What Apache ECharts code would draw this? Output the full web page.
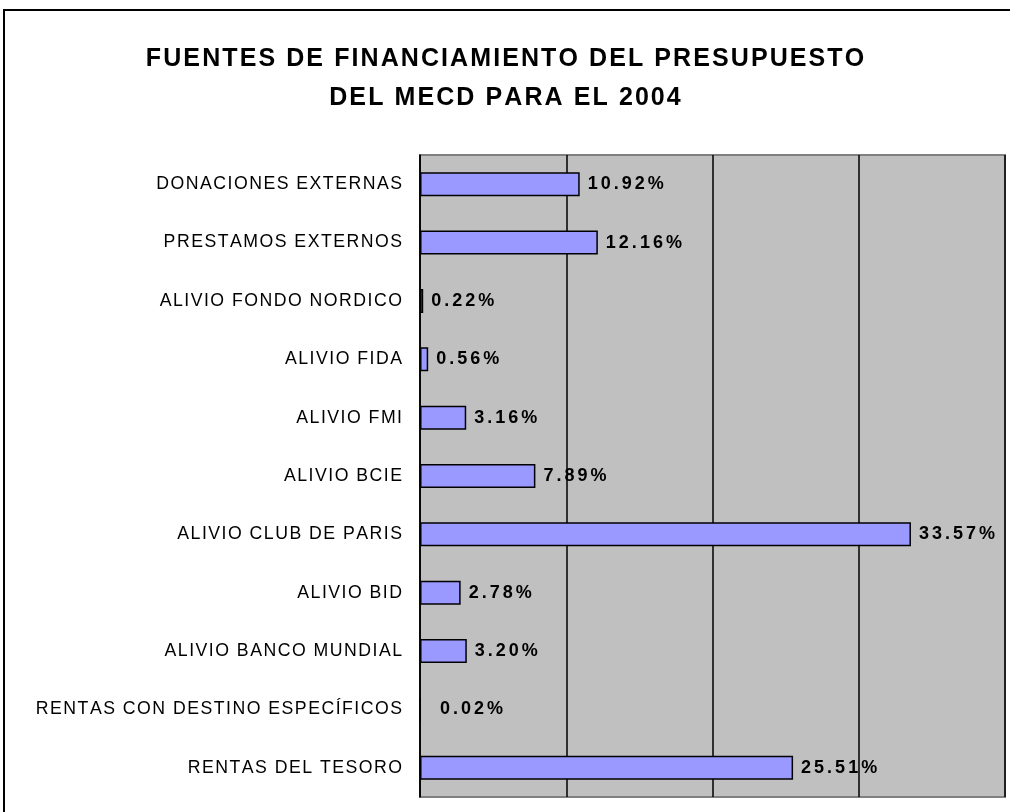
<!DOCTYPE html>
<html>
<head>
<meta charset="utf-8">
<script src="https://cdn.jsdelivr.net/npm/echarts@6/dist/echarts.min.js"></script>
<style>
  html, body { margin: 0; padding: 0; background: #fff; }
  #chart { width: 1010px; height: 812px; }
</style>
</head>
<body>
<div id="chart"></div>
<script>
  // categorias (de arriba hacia abajo)
  var categories = [
    'DONACIONES EXTERNAS',
    'PRESTAMOS EXTERNOS',
    'ALIVIO FONDO NORDICO',
    'ALIVIO FIDA',
    'ALIVIO FMI',
    'ALIVIO BCIE',
    'ALIVIO CLUB DE PARIS',
    'ALIVIO BID',
    'ALIVIO BANCO MUNDIAL',
    'RENTAS CON DESTINO ESPECÍFICOS',
    'RENTAS DEL TESORO'
  ];
  // porcentajes
  var values = [10.92, 12.16, 0.22, 0.56, 3.16, 7.89, 33.57, 2.78, 3.20, 0.02, 25.51];

  var chart = echarts.init(document.getElementById('chart'));

  // espaciado entre letras (hair space)
  function spaced(s, n) {
    var gap = new Array(n + 1).join('\u200A');
    return s.split('').join(gap);
  }

  // barras casi nulas: etiqueta un poco mas separada, como en excel
  var barData = values.map(function (v) {
    return v < 0.1 ? { value: v, label: { distance: 19 } } : v;
  });

  chart.setOption({
    backgroundColor: '#fff',
    animation: false,
    title: {
      text: spaced('FUENTES DE FINANCIAMIENTO DEL PRESUPUESTO', 1) + '\n' + spaced('DEL MECD PARA EL 2004', 1),
      left: 'center',
      top: 34,
      textStyle: {
        fontFamily: 'Liberation Sans',
        fontWeight: 'bold',
        fontSize: 25,
        lineHeight: 39.5,
        color: '#000'
      }
    },
    graphic: [{
      type: 'rect',
      shape: { x: 4, y: 10, width: 1030, height: 830 },
      style: { fill: 'none', stroke: '#000', lineWidth: 2 },
      silent: true
    }],
    grid: {
      left: 420,
      right: 5,
      top: 155,
      bottom: 15,
      show: true,
      backgroundColor: '#C0C0C0',
      borderColor: '#808080',
      borderWidth: 2
    },
    xAxis: {
      type: 'value',
      min: 0,
      max: 40,
      interval: 10,
      axisLabel: { show: false },
      axisLine: { show: false },
      axisTick: { show: false },
      splitLine: { lineStyle: { color: '#000', width: 1.5 } }
    },
    yAxis: {
      type: 'category',
      data: categories,
      inverse: true,
      axisLine: { lineStyle: { color: '#000', width: 1.5 } },
      axisTick: { length: 7, lineStyle: { color: '#000', width: 1.5 } },
      axisLabel: {
        margin: 18,
        fontFamily: 'Liberation Sans',
        fontSize: 17.7,
        color: '#000',
        formatter: function (v) { return spaced(v, 1); }
      }
    },
    series: [{
      type: 'bar',
      data: barData,
      barWidth: 24,
      itemStyle: { color: '#9999FF', borderColor: '#000', borderWidth: 1.5 },
      label: {
        show: true,
        position: 'right',
        distance: 8,
        fontFamily: 'Liberation Sans',
        fontWeight: 'bold',
        fontSize: 18,
        color: '#000',
        formatter: function (p) { return spaced(p.value.toFixed(2) + '%', 2); }
      }
    }]
  });
</script>
</body>
</html>
